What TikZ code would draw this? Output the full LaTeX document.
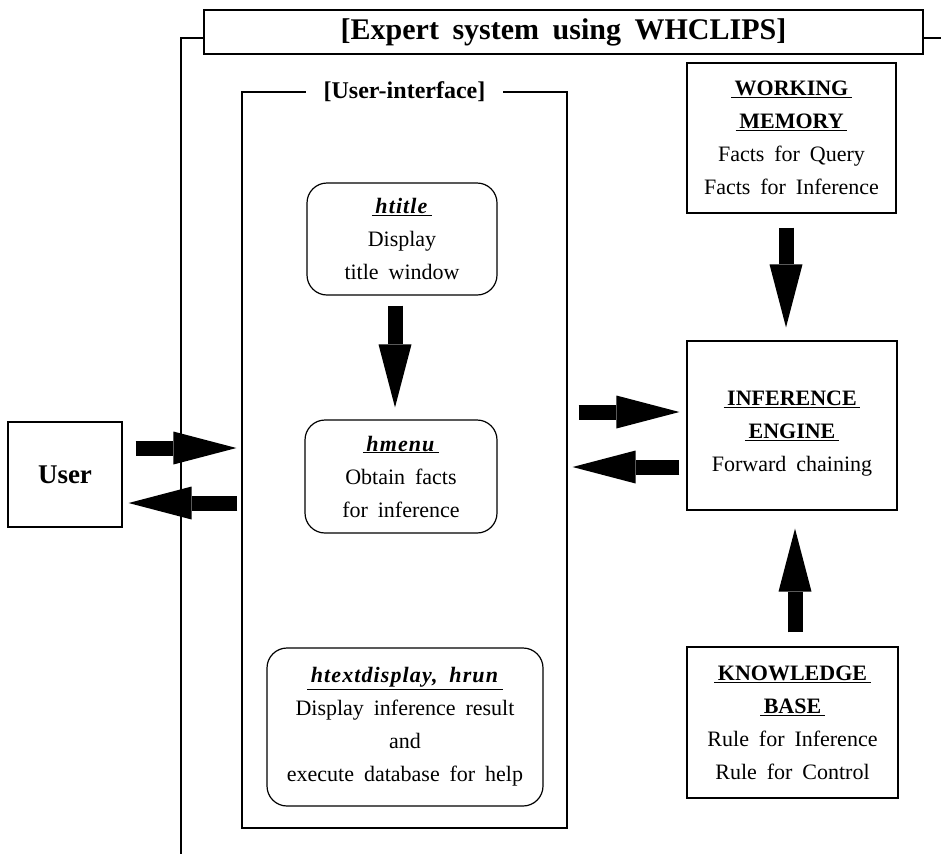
\documentclass[tikz,border=0pt]{standalone}
\usepackage{fontspec}
\setmainfont[WordSpace=1.8]{Liberation Serif}
\usetikzlibrary{arrows.meta}
\newcommand\hd[1]{\underline{\,#1\,}}
\newcommand\ihd[1]{\underline{\,{\addfontfeature{LetterSpace=5}\textbf{\textit{#1}}}\,}}
\begin{document}
\begin{tikzpicture}[x=1pt,y=-1pt,line width=1.2pt,
  box/.style={draw, line width=1.2pt, align=center, inner sep=0pt, font=\fontsize{22}{33}\selectfont},
  rbox/.style={box, rounded corners=20pt},
  fat/.style={line width=15pt, -{Triangle[length=63pt,width=33pt,line width=0pt]}},
  bigtitle/.style={font=\bfseries\fontsize{30}{34}\selectfont}]
\useasboundingbox (0,0) rectangle (941,854);
\node[box, bigtitle, minimum width=719pt, minimum height=44pt] (title) at (563.5,32) {[Expert system using WHCLIPS]};
\coordinate (bl) at (181,854);
\coordinate (tr) at (941,38);
\draw ([yshift=-6pt]title.west) -| (bl);
\draw ([yshift=-6pt]title.east) -- (tr);

\node[draw, minimum width=325pt, minimum height=736pt] (ui) at (404.5,460) {};
\node[fill=white, font=\bfseries\fontsize{24}{28}\selectfont, inner xsep=18pt] (uil) at (ui.north) {[User-interface]};

\node[rbox, minimum width=190pt, minimum height=112pt] (htitle) at (402,239)
  {\ihd{htitle}\\Display\\title window};
\node[rbox, minimum width=192pt, minimum height=113pt] (hmenu) at (401,476.5)
  {\ihd{hmenu}\\Obtain facts\\for inference};
\node[rbox, minimum width=276pt, minimum height=158pt] (htext) at (405,727)
  {\ihd{htextdisplay, hrun}\\Display inference result\\and\\execute database for help};

\node[box, minimum width=209pt, minimum height=150pt] (wm) at (791.5,138)
  {\hd{\textbf{WORKING}}\\\hd{\textbf{MEMORY}}\\Facts for Query\\Facts for Inference};
\node[box, minimum width=210pt, minimum height=169pt] (ie) at (792,425.5)
  {\rule{0pt}{31pt}\hd{\textbf{INFERENCE}}\\\hd{\textbf{ENGINE}}\\Forward chaining};
\node[box, minimum width=211pt, minimum height=151pt] (kb) at (792.5,722.5)
  {\hd{\textbf{KNOWLEDGE}}\\\hd{\textbf{BASE}}\\Rule for Inference\\Rule for Control};
\node[box, minimum width=114pt, minimum height=105pt, font=\bfseries\fontsize{27}{30}\selectfont] (user) at (65,474.5) {User};

\coordinate (a1) at ([yshift=26.5pt]user.east);
\draw[fat, shorten <=13pt, shorten >=5pt] (a1) -- (a1 -| ui.west);
\coordinate (a2) at ([yshift=-28.5pt]user.east);
\draw[fat, shorten <=4pt, shorten >=6pt] (a2 -| ui.west) -- (a2);
\coordinate (a3) at ([yshift=13.5pt]ie.west);
\draw[fat, shorten <=11pt, shorten >=7pt] (a3 -| ui.east) -- (a3);
\coordinate (a4) at ([yshift=-41.5pt]ie.west);
\draw[fat, shorten <=7pt, shorten >=5pt] (a4) -- (a4 -| ui.east);
\coordinate (a5) at ([xshift=-7pt]htitle.south);
\draw[fat, shorten <=10pt, shorten >=12pt] (a5) -- (a5 |- hmenu.north);
\coordinate (a6) at ([xshift=-5.5pt]wm.south);
\draw[fat, shorten <=14pt, shorten >=13pt] (a6) -- (a6 |- ie.north);
\coordinate (a7) at ([xshift=2.5pt]kb.north);
\draw[fat, shorten <=14pt, shorten >=18pt] (a7) -- (a7 |- ie.south);
\end{tikzpicture}
\end{document}
